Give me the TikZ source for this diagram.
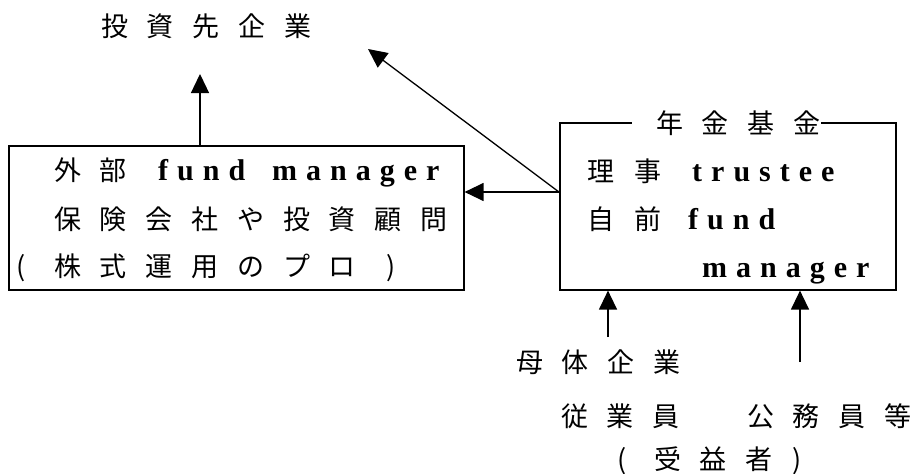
\documentclass[tikz,border=0pt]{standalone}
\usepackage{fontspec}
\usetikzlibrary{arrows.meta}
\newfontfamily\jp{Noto Sans CJK JP}
\newfontfamily\lat[LetterSpace=30]{Liberation Serif}
\ExplSyntaxOn
\NewDocumentCommand\spc{m}{\tl_map_inline:nn{#1}{\makebox[45.8pt][l]{##1}}}
\ExplSyntaxOff
\tikzset{
  txt/.style={inner sep=0pt, anchor=base west, font={\jp\fontsize{27pt}{30pt}\selectfont}},
  lat/.style={inner sep=0pt, anchor=base west, font={\lat\bfseries\fontsize{30pt}{33pt}\selectfont}},
  paren/.style={inner sep=0pt, anchor=base, font={\jp\fontsize{27pt}{30pt}\selectfont}},
  box/.style={draw, line width=1.6pt, inner sep=0pt, anchor=north west},
  arr/.style={line width=1.3pt, -{Triangle[length=19pt, width=18pt]}}
}
\begin{document}
\begin{tikzpicture}[x=1pt, y=-1pt]
\useasboundingbox (0,0) rectangle (916,474);
% top target
\node[txt] (inv) at (101,36) {\spc{投資先企}業};
% left box
\node[box, minimum width=455pt, minimum height=144pt] (ext) at (8,145) {};
\node[txt] (e1) at (54,180) {\spc{外}部};
\node[lat] (e1b) at (158,180) {fund};
\node[lat] (e1c) at (272,180) {manager};
\node[txt] (e2) at (54,229) {\spc{保険会社や投資顧}問};
\node[paren] (e3a) at (21,276) {(};
\node[txt] (e3) at (54,276) {\spc{株式運用のプ}ロ};
\node[paren] (e3b) at (391,276) {)};
% right box
\node[box, minimum width=336pt, minimum height=167pt] (fund) at (559,122) {};
\node[txt, fill=white] (ttl) at (632,133) {\hspace{24pt}\spc{年金基}金};
\node[txt] (r1) at (587,181) {\makebox[47pt][l]{理}事};
\node[lat] (r1b) at (692,181) {trustee};
\node[txt] (r2) at (587,229) {\makebox[47pt][l]{自}前};
\node[lat] (r2b) at (688,229) {fund};
\node[lat] (r3) at (702,277) {manager};
% bottom texts
\node[txt] (m1) at (516,372) {\spc{母体企}業};
\node[txt] (m2) at (561,426) {\spc{従業}員};
\node[txt] (m3) at (747,426) {\spc{公務員}等};
\node[paren] (m4a) at (622,469) {(};
\node[txt] (m4) at (654,469) {\spc{受益}者};
\node[paren] (m4b) at (797,469) {)};
% connectors
\coordinate (t1) at (200,74);
\coordinate (t2) at (368,49);
\coordinate (src) at (559,192);
\coordinate (b1) at (608,337);
\coordinate (b2) at (800,362);
\draw[arr] (ext.north -| t1) -- (t1);
\draw[arr] (src) -- (t2);
\draw[arr] (src) -- (src -| ext.east);
\draw[arr] (b1) -- (b1 |- fund.south);
\draw[arr] (b2) -- (b2 |- fund.south);
\end{tikzpicture}
\end{document}
